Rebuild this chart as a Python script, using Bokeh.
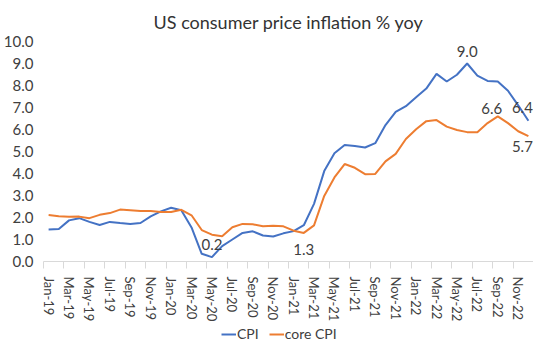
import math
from bokeh.plotting import figure
from bokeh.layouts import column
from bokeh.models import (Range1d, FixedTicker, Legend, LegendItem, ColumnDataSource, Title, LabelSet)
from bokeh.core.properties import value
from bokeh.embed import file_html
from bokeh.resources import INLINE

months = ["Jan-19", "Feb-19", "Mar-19", "Apr-19", "May-19", "Jun-19", "Jul-19", "Aug-19", "Sep-19", "Oct-19", "Nov-19", "Dec-19",
          "Jan-20", "Feb-20", "Mar-20", "Apr-20", "May-20", "Jun-20", "Jul-20", "Aug-20", "Sep-20", "Oct-20", "Nov-20", "Dec-20",
          "Jan-21", "Feb-21", "Mar-21", "Apr-21", "May-21", "Jun-21", "Jul-21", "Aug-21", "Sep-21", "Oct-21", "Nov-21", "Dec-21",
          "Jan-22", "Feb-22", "Mar-22", "Apr-22", "May-22", "Jun-22", "Jul-22", "Aug-22", "Sep-22", "Oct-22", "Nov-22", "Dec-22"]

cpi = [1.46, 1.48, 1.87, 1.97, 1.80, 1.66, 1.80, 1.75, 1.71, 1.75, 2.05, 2.28,
       2.44, 2.33, 1.55, 0.35, 0.2, 0.70, 1.00, 1.30, 1.37, 1.18, 1.14, 1.28,
       1.38, 1.65, 2.62, 4.11, 4.92, 5.30, 5.25, 5.18, 5.38, 6.20, 6.80, 7.06,
       7.47, 7.86, 8.53, 8.18, 8.49, 9.0, 8.45, 8.21, 8.18, 7.76, 7.10, 6.4]

core = [2.11, 2.06, 2.03, 2.04, 1.97, 2.12, 2.20, 2.36, 2.33, 2.30, 2.29, 2.25,
        2.25, 2.35, 2.10, 1.43, 1.22, 1.15, 1.56, 1.71, 1.69, 1.60, 1.63, 1.60,
        1.40, 1.3, 1.64, 2.98, 3.82, 4.43, 4.26, 3.97, 3.98, 4.55, 4.89, 5.57,
        6.01, 6.38, 6.43, 6.13, 5.98, 5.88, 5.88, 6.29, 6.6, 6.29, 5.92, 5.7]

tick_labels = months[::2]
y_ticks = [0, 1, 2, 3, 4, 5, 6, 7, 8, 9, 10]

# data labels: month index, screen offsets in px (y up positive)
cpi_label_idx = [16, 41, 47]
cpi_label_dy = [13, 12, 13]
cpi_label_dx = [0, 0, -6]
core_label_idx = [25, 44, 47]
core_label_dy = [-17, 8, -10]
core_label_dx = [0, -6, -6]

FONT = "Lato"
BLUE = "#4472C4"
ORANGE = "#ED7D31"
TXT = "#404040"

x = list(range(len(months)))

p = figure(width=533, height=324, output_backend="svg", toolbar_location=None,
           x_range=Range1d(-0.5, len(months) - 0.5), y_range=Range1d(0, 10),
           min_border_left=42, min_border_right=0, min_border_top=41, min_border_bottom=50)
p.outline_line_color = None
p.grid.grid_line_color = None

t = Title(text="US consumer price inflation % yoy", align="center", text_font=FONT,
          text_font_size="18px", text_font_style="normal", text_color="#333333", standoff=17)
p.add_layout(t, "above")

r1 = p.line(x, cpi, line_color=BLUE, line_width=2)
r2 = p.line(x, core, line_color=ORANGE, line_width=2)

xa = p.xaxis[0]
xa.ticker = FixedTicker(ticks=list(range(0, len(months), 2)),
                        minor_ticks=[i - 0.5 for i in range(0, len(months) + 1, 2)])
xa.major_label_overrides = {i * 2: lab for i, lab in enumerate(tick_labels)}
xa.major_label_orientation = -math.pi / 2
xa.major_tick_line_color = None
xa.major_tick_out = 0
xa.major_tick_in = 0
xa.minor_tick_line_color = "#D9D9D9"
xa.minor_tick_out = 7
xa.minor_tick_in = 0
xa.axis_line_color = "#D9D9D9"
xa.major_label_standoff = 8
xa.major_label_text_font = FONT
xa.major_label_text_font_size = "13px"
xa.major_label_text_color = TXT

ya = p.yaxis[0]
ya.ticker = FixedTicker(ticks=y_ticks)
ya.major_label_overrides = {v: f"{v:.1f}" for v in y_ticks}
ya.axis_line_color = None
ya.major_tick_line_color = None
ya.minor_tick_line_color = None
ya.major_tick_out = 0
ya.major_tick_in = 0
ya.major_label_standoff = 10
ya.major_label_text_font = FONT
ya.major_label_text_font_size = "15px"
ya.major_label_text_color = TXT

src_c = ColumnDataSource(dict(x=cpi_label_idx, y=[cpi[i] for i in cpi_label_idx],
                              t=[f"{cpi[i]:.1f}" for i in cpi_label_idx],
                              dy=cpi_label_dy, dx=cpi_label_dx))
src_k = ColumnDataSource(dict(x=core_label_idx, y=[core[i] for i in core_label_idx],
                              t=[f"{core[i]:.1f}" for i in core_label_idx],
                              dy=core_label_dy, dx=core_label_dx))
for src in (src_c, src_k):
    ls = LabelSet(x="x", y="y", text="t", x_offset="dx", y_offset="dy", source=src,
                  text_font=value(FONT), text_font_size="15px", text_color=TXT,
                  text_align="center", text_baseline="middle")
    p.add_layout(ls)

# legend strip below the chart (series drawn out of view so only the legend shows)
lg = figure(width=533, height=18, output_backend="svg", toolbar_location=None,
            x_range=Range1d(-0.5, len(months) - 0.5), y_range=Range1d(100, 101),
            min_border_left=0, min_border_right=0, min_border_top=0, min_border_bottom=0)
lg.axis.visible = False
lg.grid.grid_line_color = None
lg.outline_line_color = None
l1 = lg.line(x, cpi, line_color=BLUE, line_width=2)
l2 = lg.line(x, core, line_color=ORANGE, line_width=2)
legend = Legend(items=[LegendItem(label="CPI", renderers=[l1]),
                       LegendItem(label="core CPI", renderers=[l2])],
                orientation="horizontal", location=(178, 0),
                label_text_font=FONT, label_text_font_size="14px", label_text_color=TXT,
                label_height=17, glyph_width=15, glyph_height=12, label_standoff=1, spacing=10,
                padding=0, margin=0, border_line_color=None, background_fill_alpha=0)
lg.add_layout(legend, "center")

layout = column(p, lg, spacing=0)
open("out.html", "w").write(file_html(layout, INLINE))
